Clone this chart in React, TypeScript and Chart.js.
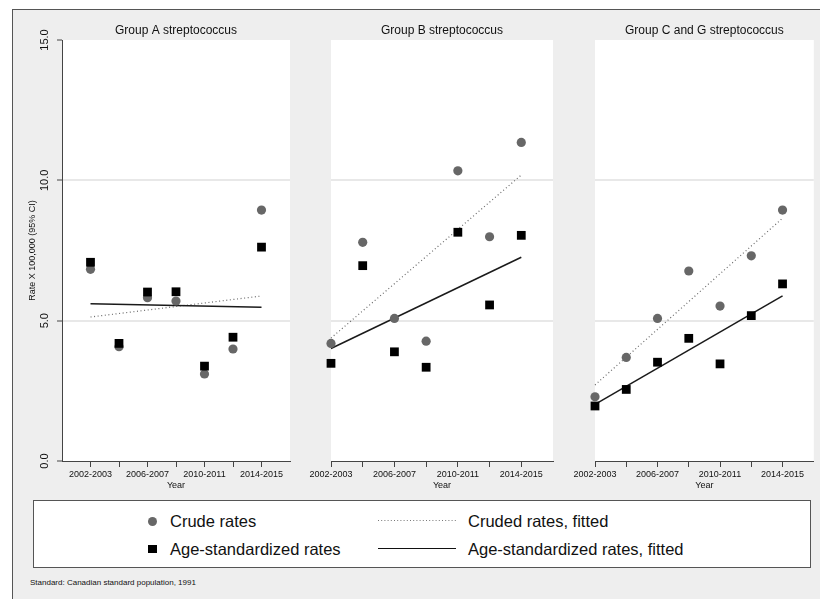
import React, { useEffect, useRef } from 'react';
import { Chart, registerables } from 'chart.js';
Chart.register(...registerables);

const FONT = '"Liberation Sans", Arial, Helvetica, sans-serif';
Chart.defaults.font.family = FONT;

// ---------- data ----------
const periods = ['2002-2003', '2004-2005', '2006-2007', '2008-2009', '2010-2011', '2012-2013', '2014-2015'];
const shownTickLabels = ['2002-2003', '', '2006-2007', '', '2010-2011', '', '2014-2015'];
const yTicks = [0, 5, 10, 15];
const panelTitles = ['Group A streptococcus', 'Group B streptococcus', 'Group C and G streptococcus'];

const crudeA = [6.83, 4.07, 5.82, 5.7, 3.1, 3.99, 8.94];
const ageStdA = [7.08, 4.19, 6.02, 6.03, 3.38, 4.41, 7.62];
const crudeFitA = [5.13, 5.88];
const ageStdFitA = [5.6, 5.48];

const crudeB = [4.19, 7.79, 5.08, 4.27, 10.34, 7.99, 11.35];
const ageStdB = [3.48, 6.96, 3.89, 3.34, 8.15, 5.56, 8.04];
const crudeFitB = [4.38, 10.19];
const ageStdFitB = [4.01, 7.26];

const crudeCG = [2.29, 3.69, 5.08, 6.77, 5.52, 7.31, 8.94];
const ageStdCG = [1.96, 2.55, 3.52, 4.37, 3.46, 5.18, 6.31];
const crudeFitCG = [2.71, 8.65];
const ageStdFitCG = [2.02, 5.88];

const legendLabels = ['Crude rates', 'Cruded rates, fitted', 'Age-standardized rates', 'Age-standardized rates, fitted'];
const footnote = 'Standard: Canadian standard population, 1991';
const yTitle = 'Rate X 100,000 (95% CI)';
const xTitle = 'Year';

// ---------- layout ----------
const panels = [
  { title: panelTitles[0], crude: crudeA, age: ageStdA, crudeFit: crudeFitA, ageFit: ageStdFitA, left: 13, width: 287, yWidth: 49, padRight: 10, xMin: -1, showY: true },
  { title: panelTitles[1], crude: crudeB, age: ageStdB, crudeFit: crudeFitB, ageFit: ageStdFitB, left: 300, width: 263, yWidth: 31, padRight: 10, xMin: 0, showY: false },
  { title: panelTitles[2], crude: crudeCG, age: ageStdCG, crudeFit: crudeFitCG, ageFit: ageStdFitCG, left: 563, width: 257, yWidth: 32, padRight: 2, xMin: 0, showY: false },
];
const CANVAS_TOP = 10;
const CANVAS_H = 485;

const decorPlugin = {
  id: 'panelDecor',
  beforeDraw(chart: any) {
    const { ctx, chartArea: a } = chart;
    ctx.save();
    ctx.fillStyle = '#ffffff';
    ctx.fillRect(a.left, a.top, a.right - a.left, a.bottom - a.top);
    ctx.restore();
  },
  afterDraw(chart: any, _args: any, opts: any) {
    const { ctx, chartArea: a } = chart;
    ctx.save();
    ctx.fillStyle = '#111';
    ctx.font = `12px ${FONT}`;
    ctx.textAlign = 'center';
    ctx.textBaseline = 'middle';
    ctx.fillText(opts.title, (a.left + a.right) / 2, a.top - 9);
    if (opts.showY) {
      ctx.font = `11px ${FONT}`;
      ctx.fillStyle = '#111';
      const ys = chart.scales.y;
      yTicks.forEach((v) => {
        const py = ys.getPixelForValue(v);
        ctx.save();
        ctx.translate(a.left - 17, py);
        ctx.rotate(-Math.PI / 2);
        ctx.fillText(v.toFixed(1), 0, 0);
        ctx.restore();
      });
    }
    ctx.restore();
  },
};

function Panel(p: any) {
  const ref = useRef<HTMLCanvasElement | null>(null);
  useEffect(() => {
    if (!ref.current) return;
    const pts = (arr: number[]) => arr.map((v, i) => ({ x: i, y: v }));
    const fit = (arr: number[]) => [{ x: 0, y: arr[0] }, { x: periods.length - 1, y: arr[1] }];
    const chart = new Chart(ref.current, {
      type: 'scatter',
      data: {
        datasets: [
          { label: legendLabels[2], data: pts(p.age), clip: false, pointStyle: 'rect', pointRadius: 6.2, pointHoverRadius: 6.2, backgroundColor: '#000', borderColor: '#000', borderWidth: 0 } as any,
          { label: legendLabels[0], data: pts(p.crude), clip: false, pointStyle: 'circle', pointRadius: 4.6, pointHoverRadius: 4.6, backgroundColor: '#676767', borderColor: '#676767', borderWidth: 0 } as any,
          { label: legendLabels[3], data: fit(p.ageFit), clip: false, showLine: true, pointRadius: 0, borderColor: '#1a1a1a', borderWidth: 1.5, backgroundColor: '#1a1a1a' } as any,
          { label: legendLabels[1], data: fit(p.crudeFit), clip: false, showLine: true, pointRadius: 0, borderColor: '#6a6a6a', borderWidth: 1.2, borderDash: [1, 2.6], backgroundColor: '#6a6a6a' } as any,
        ],
      },
      options: {
        responsive: false,
        animation: false,
        devicePixelRatio: 1,
        layout: { padding: { top: 30, right: p.padRight, left: 0, bottom: 0 } },
        plugins: {
          legend: { display: false },
          tooltip: { enabled: false },
          panelDecor: { title: p.title, showY: p.showY },
        } as any,
        scales: {
          x: {
            type: 'linear',
            min: p.xMin,
            max: periods.length,
            afterBuildTicks: (s: any) => { s.ticks = periods.map((_, i) => ({ value: i })); },
            afterFit: (s: any) => { s.height = 34; },
            grid: { drawOnChartArea: false, drawTicks: true, tickLength: 6, color: '#444', tickColor: '#444', lineWidth: 1 },
            border: { display: true, color: '#444', width: 1 },
            ticks: {
              autoSkip: false, maxRotation: 0, minRotation: 0, padding: 2,
              font: { size: 9, family: FONT }, color: '#111',
              callback: (v: any) => shownTickLabels[Math.round(Number(v))] ?? '',
            },
            title: { display: true, text: xTitle, font: { size: 9, family: FONT }, color: '#111', padding: { top: 0, bottom: 4 } },
          },
          y: {
            type: 'linear',
            min: 0,
            max: 15,
            afterBuildTicks: (s: any) => { s.ticks = yTicks.map((v) => ({ value: v })); },
            afterFit: (s: any) => { s.width = p.yWidth; },
            grid: {
              color: (c: any) => (c.tick && (c.tick.value === 5 || c.tick.value === 10) ? '#e8e8e8' : 'rgba(0,0,0,0)'),
              lineWidth: 2,
              drawTicks: p.showY,
              tickLength: 5,
              tickColor: '#444',
              tickWidth: 1,
            },
            border: { display: p.showY, color: '#444', width: 1 },
            ticks: { display: false },
            title: { display: p.showY, text: yTitle, font: { size: 9, family: FONT }, color: '#111', padding: { top: 14.6, bottom: 0 } },
          },
        },
      },
      plugins: [decorPlugin as any],
    });
    return () => chart.destroy();
  }, []);
  return (
    <canvas
      ref={ref}
      width={p.width}
      height={CANVAS_H}
      style={{ position: 'absolute', left: p.left, top: CANVAS_TOP, width: p.width, height: CANVAS_H }}
    />
  );
}

export default function App() {
  const txt = (left: number, cy: number, size: number, text: string, lh = 20) => (
    <div style={{ position: 'absolute', left, top: cy - lh / 2, height: lh, lineHeight: `${lh}px`, fontSize: size, color: '#111', whiteSpace: 'nowrap', fontFamily: FONT }}>{text}</div>
  );
  return (
    <div style={{ position: 'absolute', left: 0, top: 0, width: 820, height: 599, background: '#fff', overflow: 'hidden', fontFamily: FONT }}>
      <div style={{ position: 'absolute', left: 12, top: 9, width: 830, height: 620, background: '#eeeeee', borderLeft: '1px solid #555', borderTop: '1px solid #555' }} />
      {panels.map((p, i) => <Panel key={i} {...p} />)}
      <div style={{ position: 'absolute', left: 33, top: 500, width: 778, height: 68, boxSizing: 'border-box', border: '1.5px solid #555', background: '#fff' }} />
      <div style={{ position: 'absolute', left: 148, top: 516.5, width: 9, height: 9, borderRadius: '50%', background: '#676767' }} />
      <div style={{ position: 'absolute', left: 148.3, top: 544.5, width: 8.5, height: 8.5, background: '#000' }} />
      {txt(170, 521, 16.5, legendLabels[0])}
      {txt(170, 549, 16.5, legendLabels[2])}
      <svg style={{ position: 'absolute', left: 378, top: 519, width: 80, height: 3 }} width={80} height={3}>
        <line x1={0} y1={1.5} x2={78} y2={1.5} stroke="#777" strokeWidth={1} strokeDasharray="1 2.2" />
      </svg>
      <div style={{ position: 'absolute', left: 378, top: 547.5, width: 78, height: 1.6, background: '#111' }} />
      {txt(468, 521, 16.5, legendLabels[1])}
      {txt(468, 549, 16.5, legendLabels[3])}
      {txt(30, 583, 8, footnote, 10)}
    </div>
  );
}
